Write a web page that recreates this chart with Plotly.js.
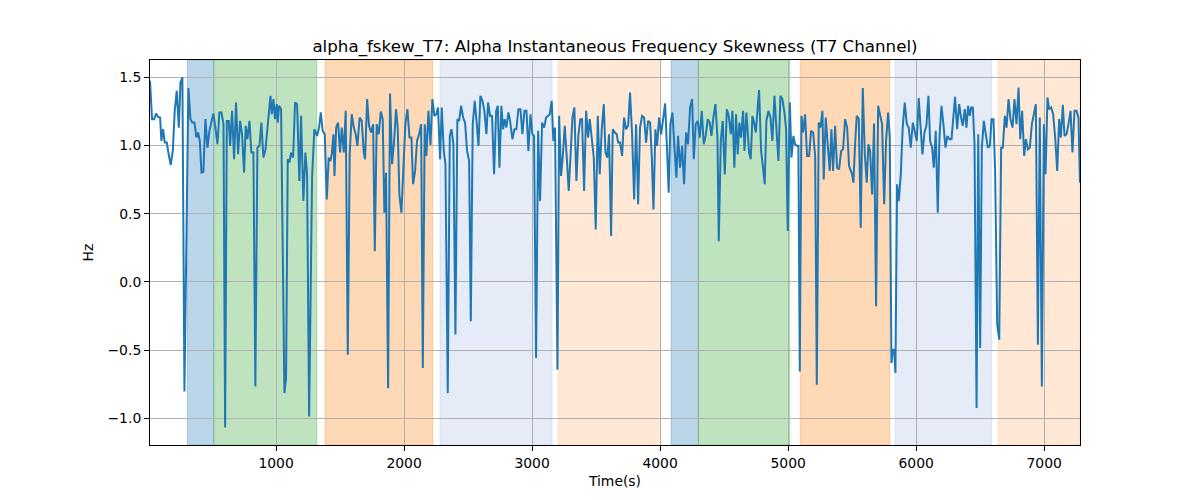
<!DOCTYPE html>
<html>
<head>
<meta charset="utf-8">
<script src="https://cdn.plot.ly/plotly-3.0.1.min.js"></script>
<style>
  html, body { margin: 0; padding: 0; background: #fff; }
  #plot { width: 1200px; height: 500px; }
</style>
</head>
<body>
<div id="plot"></div>
<script>
// values
const time = [
  15, 31, 47, 62, 78, 94, 104, 117, 130, 146, 161, 177, 193, 208, 224, 240, 253, 268, 284, 315,
  331, 346, 362, 378, 391, 404, 417, 432, 448, 464, 479, 495, 510, 526, 542, 557, 573, 589, 602, 615,
  630, 641, 656, 672, 687, 703, 719, 734, 750, 763, 776, 792, 807, 823, 838, 854, 870, 885, 901, 917,
  956, 966, 979, 992, 1005, 1013, 1023, 1039, 1065, 1078, 1091, 1104, 1117, 1133, 1148, 1164, 1182, 1195, 1213, 1229,
  1242, 1258, 1281, 1299, 1320, 1336, 1349, 1364, 1380, 1396, 1411, 1424, 1435, 1448, 1456, 1469, 1484, 1500, 1513, 1529,
  1544, 1560, 1575, 1591, 1607, 1622, 1635, 1653, 1669, 1685, 1695, 1711, 1726, 1742, 1758, 1771, 1786, 1802, 1818, 1833,
  1846, 1859, 1875, 1890, 1906, 1922, 1937, 1950, 1963, 1979, 1995, 2010, 2026, 2042, 2057, 2070, 2086, 2101, 2117, 2133,
  2146, 2161, 2174, 2190, 2206, 2221, 2237, 2252, 2265, 2281, 2294, 2310, 2323, 2341, 2357, 2370, 2385, 2401, 2416, 2430,
  2445, 2461, 2476, 2492, 2508, 2521, 2536, 2552, 2568, 2581, 2596, 2612, 2627, 2643, 2656, 2672, 2687, 2703, 2719, 2732,
  2745, 2760, 2773, 2786, 2799, 2815, 2828, 2846, 2862, 2877, 2893, 2909, 2924, 2940, 2956, 2971, 2987, 3002, 3015, 3031,
  3047, 3062, 3078, 3094, 3109, 3125, 3138, 3153, 3166, 3179, 3198, 3211, 3226, 3239, 3255, 3271, 3286, 3302, 3315, 3330,
  3346, 3362, 3377, 3390, 3406, 3422, 3437, 3450, 3466, 3482, 3497, 3513, 3528, 3544, 3560, 3573, 3588, 3601, 3617, 3630,
  3646, 3661, 3672, 3687, 3703, 3718, 3734, 3750, 3765, 3781, 3797, 3812, 3828, 3843, 3859, 3875, 3890, 3906, 3922, 3935,
  3948, 3963, 3976, 3992, 4008, 4023, 4039, 4054, 4067, 4080, 4096, 4112, 4127, 4140, 4156, 4172, 4187, 4203, 4218, 4234,
  4250, 4263, 4278, 4294, 4310, 4325, 4341, 4356, 4372, 4388, 4401, 4416, 4432, 4448, 4458, 4474, 4489, 4505, 4521, 4536,
  4552, 4565, 4580, 4593, 4606, 4619, 4632, 4648, 4659, 4674, 4685, 4695, 4708, 4721, 4734, 4747, 4773, 4789, 4804, 4817,
  4830, 4846, 4862, 4877, 4893, 4908, 4924, 4940, 4955, 4971, 4984, 4997, 5013, 5026, 5041, 5054, 5067, 5080, 5091, 5104,
  5117, 5132, 5148, 5164, 5179, 5195, 5211, 5224, 5239, 5252, 5268, 5278, 5294, 5310, 5325, 5338, 5351, 5367, 5382, 5398,
  5414, 5429, 5445, 5461, 5476, 5500, 5510, 5523, 5536, 5552, 5567, 5583, 5599, 5614, 5627, 5640, 5656, 5671, 5687, 5703,
  5718, 5734, 5750, 5765, 5781, 5794, 5807, 5817, 5828, 5838, 5851, 5864, 5880, 5895, 5911, 5927, 5942, 5958, 5974, 5989,
  6005, 6020, 6036, 6049, 6065, 6080, 6096, 6109, 6125, 6138, 6153, 6169, 6182, 6198, 6213, 6229, 6244, 6260, 6276, 6291,
  6304, 6320, 6336, 6351, 6364, 6380, 6393, 6406, 6419, 6430, 6443, 6456, 6472, 6485, 6500, 6513, 6529, 6544, 6560, 6576,
  6589, 6604, 6617, 6633, 6649, 6664, 6677, 6693, 6706, 6722, 6737, 6753, 6768, 6784, 6800, 6813, 6828, 6844, 6857, 6873,
  6888, 6904, 6919, 6935, 6951, 6966, 6982, 6998, 7011, 7026, 7039, 7055, 7070, 7086, 7102, 7117, 7130, 7146, 7159, 7175,
  7190, 7206, 7221, 7237, 7253, 7268, 7280
];

const hz = [
  1.475, 1.194, 1.194, 1.235, 1.211, 1.206, 1.034, 1.120, 1.022, 1.022, 0.936, 0.858, 0.961, 1.255, 1.402, 1.132, 1.463, 1.500, -0.804, 1.422,
  1.194, 1.169, 1.169, 1.059, 1.096, 1.034, 0.801, 0.806, 1.194, 0.985, 1.108, 1.169, 1.235, 1.132, 1.010, 1.243, 1.243, 1.157, -1.069, 1.181,
  1.181, 0.998, 1.255, 0.900, 1.316, 0.936, 1.181, 1.083, 0.801, 1.145, 1.047, 1.181, 0.949, 0.949, -0.767, 0.985, 0.998, 1.169, 0.912, 0.970,
  1.365, 1.230, 1.341, 1.194, 1.304, 1.169, 1.292, 1.267, -0.816, -0.706, 0.900, 0.875, 0.949, 0.912, 1.316, 1.304, 0.740, 1.218, 0.593, 0.949,
  0.789, -0.988, 0.765, 1.120, 1.071, 1.132, 1.243, 1.108, 1.083, 0.605, 0.912, 0.887, 0.936, 1.083, 0.777, 1.132, 1.169, 0.949, 1.132, 0.949,
  1.255, -0.534, 0.936, 1.230, 1.132, 1.083, 0.998, 1.206, 1.181, 0.949, 0.900, 1.341, 1.145, 1.096, 1.157, 0.225, 1.157, 1.083, 1.250, 1.194,
  0.507, 0.801, -0.780, 1.382, 0.863, 1.034, 1.267, 1.132, 0.642, 0.507, 0.887, 1.157, 1.267, 1.059, 1.059, 0.716, 0.814, 1.034, 1.083, 1.157,
  -0.632, 1.157, 0.924, 1.255, 1.005, 1.341, 1.218, 1.230, 1.279, 0.900, 1.279, 0.961, 0.863, -0.816, 1.071, 1.120, 1.010, -0.387, 1.194, 1.181,
  1.292, 1.206, 1.169, 0.961, 0.887, -0.289, 1.157, 1.328, 1.157, 0.998, 1.365, 1.328, 1.255, 1.083, 1.316, 1.218, 1.218, 0.789, 1.255, 1.292,
  0.838, 1.292, 1.120, 1.194, 1.132, 1.243, 1.181, 1.047, 1.120, 1.120, 1.267, 1.267, 1.083, 1.255, 1.255, 0.961, 1.230, 1.083, 1.071, -0.559,
  1.108, 0.593, 1.169, 1.132, 1.206, 1.218, 1.230, 1.328, 1.034, 1.132, -0.645, 1.218, 0.777, 0.912, 1.145, 0.912, 0.667, 0.961, 1.206, 1.279,
  0.740, 1.083, 1.194, 1.194, 0.667, 1.255, 1.059, 1.194, 1.071, 0.912, 0.385, 1.218, 0.789, 1.120, 1.304, 0.949, 0.912, 1.083, 0.336, 1.120,
  1.096, 1.083, 1.022, 1.022, 0.924, 1.206, 1.120, 1.145, 1.390, 1.083, 0.605, 1.157, 0.569, 1.132, 1.218, 1.206, 1.022, 1.181, 1.169, 0.912,
  0.532, 1.120, 0.998, 1.206, 1.083, 1.181, 1.309, 0.973, 0.654, 1.157, 1.243, 0.985, 0.765, 1.071, 0.838, 0.998, 0.716, 1.096, 1.010, 1.279,
  1.341, 0.900, 1.157, 1.181, 1.059, 1.255, 1.010, 1.071, 1.194, 1.169, 1.071, 1.206, 1.304, 1.059, 0.299, 1.034, 1.181, 0.789, 1.267, 1.218,
  1.083, 1.255, 0.838, 1.230, 0.936, 1.169, 1.059, 1.255, 0.961, 1.243, 1.034, 0.949, 0.900, 1.218, 1.169, 1.096, 1.407, 0.961, 0.838, 0.716,
  1.181, 1.255, 1.206, 1.034, 1.365, 1.083, 0.887, 1.365, 1.341, 1.243, 1.120, 0.373, 1.316, 0.912, 1.071, 1.010, 0.998, 0.998, -0.657, 1.218,
  1.096, 1.230, 0.924, 0.924, 1.108, 1.096, 0.924, -0.755, 1.169, 1.132, 1.255, 0.752, 1.206, 0.998, 0.814, 1.120, 0.814, 1.145, 0.838, 0.826,
  0.961, 0.973, 1.194, 1.132, 0.850, 0.789, 0.728, 1.010, 1.218, 1.194, 0.397, 1.422, 0.936, 0.728, 1.010, 0.961, 0.642, 1.162, -0.179, 1.292,
  1.218, 1.157, 0.569, 1.034, 1.243, 1.059, -0.596, -0.498, -0.498, -0.669, 0.716, 0.593, 0.789, 1.132, 1.316, 1.157, 1.132, 0.985, 1.169, 1.108,
  1.034, 1.348, 1.157, 0.936, 1.096, 1.145, 1.365, 1.034, 0.985, 0.838, 1.108, 0.507, 1.059, 1.292, 1.157, 0.985, 1.071, 1.047, 1.047, 1.230,
  1.358, 1.120, 1.304, 1.206, 1.145, 1.267, 1.132, 1.292, 1.218, 1.279, 1.279, 1.010, -0.926, 1.083, -0.485, 0.985, 1.181, 1.083, 0.985, 0.998,
  1.194, 1.194, 0.814, -0.314, -0.424, 0.985, 0.985, 1.218, 1.132, 1.341, 1.194, 1.132, 1.341, 1.157, 1.426, 1.047, 1.255, 0.924, 1.047, 0.973,
  0.985, 1.157, 1.243, 1.304, -0.461, 1.206, -0.767, 1.157, 0.789, 1.353, 1.267, 1.279, 1.230, 1.059, 0.814, 1.194, 1.059, 1.299, 1.071, 1.083,
  1.157, 1.255, 0.949, 1.255, 1.255, 1.206, 0.728
];

// shaded segments
const spanStart = [307, 513, 1383, 2281, 3203, 4086, 4299, 5094, 5836, 6641];
const spanEnd   = [513, 1318, 2224, 3156, 4005, 4299, 5013, 5794, 6591, 7280];
const spanKind  = ['blue', 'green', 'orange', 'lightblue', 'lightorange',
                   'blue', 'green', 'orange', 'lightblue', 'lightorange'];

const spanFill = {
  blue: 'rgba(31,119,180,0.3)',
  green: 'rgba(44,160,44,0.3)',
  orange: 'rgba(255,127,14,0.3)',
  lightblue: 'rgba(100,140,215,0.17)',
  lightorange: 'rgba(255,127,14,0.17)',
};

const shapes = spanStart.map((s, i) => ({
  type: 'rect',
  xref: 'x',
  yref: 'paper',
  x0: s,
  x1: spanEnd[i],
  y0: 0,
  y1: 1,
  fillcolor: spanFill[spanKind[i]],
  line: { width: 1, color: spanFill[spanKind[i]] },
  layer: 'below',
}));

const font = 'DejaVu Sans, sans-serif';

const data = [
  {
    x: time,
    y: hz,
    type: 'scatter',
    mode: 'lines',
    line: { color: '#1f77b4', width: 2 },
    hoverinfo: 'skip',
  },
];

const axisCommon = {
  showline: true,
  mirror: true,
  linecolor: '#000',
  linewidth: 1,
  ticks: 'outside',
  ticklen: 5,
  tickwidth: 1,
  tickcolor: '#000',
  showgrid: true,
  gridcolor: '#b0b0b0',
  gridwidth: 1,
  zeroline: false,
  tickfont: { family: font, size: 13.9, color: '#000' },
};

const layout = {
  width: 1200,
  height: 500,
  paper_bgcolor: '#fff',
  plot_bgcolor: '#fff',
  margin: { l: 150, r: 120, t: 60, b: 55 },
  showlegend: false,
  title: {
    text: 'alpha_fskew_T7: Alpha Instantaneous Frequency Skewness (T7 Channel)',
    font: { family: font, size: 16.7, color: '#000' },
    x: 0.5125,
    xanchor: 'center',
    y: 0.908,
    yanchor: 'middle',
  },
  xaxis: Object.assign({}, axisCommon, {
    range: [15, 7280],
    tick0: 0,
    dtick: 1000,
    title: { text: 'Time(s)', font: { family: font, size: 13.9, color: '#000' }, standoff: 6 },
  }),
  yaxis: Object.assign({}, axisCommon, {
    range: [-1.197, 1.628],
    tick0: 0,
    dtick: 0.5,
    tickformat: '.1f',
    title: { text: 'Hz', font: { family: font, size: 13.9, color: '#000' }, standoff: 10 },
  }),
  shapes: shapes,
};

Plotly.newPlot('plot', data, layout, { staticPlot: true, displayModeBar: false });
</script>
</body>
</html>
